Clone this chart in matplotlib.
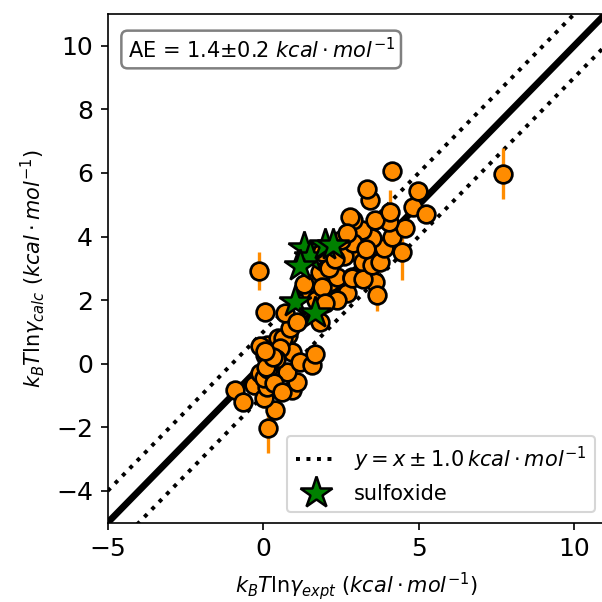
import matplotlib
matplotlib.use("Agg")
import matplotlib.pyplot as plt
import numpy as np

# experimental (x), calculated (y) and uncertainty of calculated values
x_expt = [-0.90, -0.65, -0.31, 0.17, 0.39, 0.01, 0.92, 1.08, 0.12, 0.76,
          -0.10, 0.01, 0.23, 0.26, 0.06, 0.23, 0.12, -0.10, 0.30, 0.49,
          0.81, 0.92, 1.19, 1.57, 1.67, 0.65, 0.87, 0.55, 0.40, 0.15,
          0.35, 0.60, 0.06, 0.71, 1.08, 1.83, -0.13, 1.51, 1.62, 2.15,
          2.37, 2.69, 2.37, 2.85, 2.10, 3.01, 3.22, 1.83, 2.12, 2.87,
          3.58, 3.66, 3.22, 3.50, 3.76, 3.89, 4.46, 4.14, 3.50, 3.17,
          4.57, 4.03, 3.58, 2.89, 2.80, 4.08, 4.83, 5.23, 4.99, 3.44,
          3.33, 4.14, 7.70, 2.60, 2.90, 2.50, 3.30, 2.70, 1.90, 2.30,
          1.30, 1.70, 1.90, 2.00, 0.20, 0.10, 0.30, 0.05]
y_calc = [-0.83, -1.19, -0.67, -2.01, -1.46, -1.09, -0.84, -0.57, -0.72, -0.25,
          -0.30, -0.46, 0.01, 0.10, 0.27, 0.32, 0.59, 0.55, 0.45, 0.80,
          0.90, 0.38, 0.06, -0.04, 0.32, 0.80, 1.11, 0.50, 0.15, -0.15,
          -0.60, -0.90, 1.64, 1.58, 1.32, 1.32, 2.92, 2.26, 2.53, 2.58,
          2.74, 2.21, 2.00, 2.74, 3.10, 3.52, 3.21, 2.89, 3.00, 2.71,
          2.58, 2.16, 2.67, 3.10, 3.19, 3.65, 3.52, 3.99, 3.94, 4.20,
          4.28, 4.47, 4.52, 4.52, 4.60, 4.76, 4.94, 4.71, 5.44, 5.15,
          5.49, 6.06, 5.98, 3.40, 3.80, 3.90, 3.60, 4.10, 3.50, 3.30,
          2.50, 2.00, 2.40, 1.90, 0.05, -0.10, 0.20, 0.40]
y_err = [0.2, 0.2, 0.3, 0.8, 0.3, 0.3, 0.2, 0.2, 0.3, 0.2,
         0.3, 0.2, 0.3, 0.2, 0.2, 0.2, 0.2, 0.2, 0.2, 0.2,
         0.2, 0.2, 0.2, 0.2, 0.2, 0.2, 0.2, 0.2, 0.2, 0.2,
         0.2, 0.2, 0.3, 0.2, 0.2, 0.2, 0.6, 0.2, 0.2, 0.2,
         0.2, 0.2, 0.2, 0.2, 0.2, 0.2, 0.2, 0.2, 0.2, 0.2,
         0.3, 0.5, 0.3, 0.3, 0.3, 0.4, 0.9, 0.3, 0.2, 0.3,
         0.2, 0.2, 0.2, 0.2, 0.2, 0.7, 0.2, 0.2, 0.2, 0.2,
         0.2, 0.3, 0.8, 0.2, 0.2, 0.2, 0.2, 0.2, 0.2, 0.2,
         0.2, 0.2, 0.2, 0.2, 0.2, 0.2, 0.2, 0.2]

# sulfoxide subset
x_sulf = [1.32, 1.50, 2.00, 2.25, 1.19, 1.03, 1.68]
y_sulf = [3.65, 3.35, 3.75, 3.74, 3.08, 1.95, 1.60]

ae_text = "AE = 1.4±0.2 $kcal \\cdot mol^{-1}$"
band = 1.0
xlim = (-5, 11)
ylim = (-5, 11)
xticks = [-5, 0, 5, 10]
yticks = [-4, -2, 0, 2, 4, 6, 8, 10]

fig = plt.figure(figsize=(602/150, 602/150), dpi=150)
ax = fig.add_axes([107.7/602, 1 - 522.7/602, 16*31.1/602, 508.7/602])

xx = np.array(xlim)
ax.plot(xx, xx, color="black", lw=3.2, zorder=1)
ax.plot(xx, xx + band, color="black", ls=":", lw=1.9, zorder=1,
        label="$y = x \\pm 1.0 \\, kcal \\cdot mol^{-1}$")
ax.plot(xx, xx - band, color="black", ls=":", lw=1.9, zorder=1)

ax.errorbar(x_expt, y_calc, yerr=y_err, fmt="none", ecolor="darkorange",
            elinewidth=1.6, capsize=0, zorder=2)
ax.plot(x_expt, y_calc, "o", color="darkorange", mec="black", mew=1.3,
        ms=8.5, ls="none", zorder=3)
ax.plot(x_sulf, y_sulf, "*", color="green", mec="black", mew=1.2,
        ms=16, ls="none", zorder=4, label="sulfoxide")

ax.set_xlim(*xlim)
ax.set_ylim(*ylim)
ax.set_xticks(xticks)
ax.set_yticks(yticks)
ax.tick_params(labelsize=12)
ax.set_xlabel("$k_BT\\mathrm{ln}\\gamma_{expt}$ $(kcal \\cdot mol^{-1})$", fontsize=10)
ax.set_ylabel("$k_BT\\mathrm{ln}\\gamma_{calc}$ $(kcal \\cdot mol^{-1})$", fontsize=10)

ax.text(0.04, 0.955, ae_text, transform=ax.transAxes, fontsize=10,
        va="top", ha="left",
        bbox=dict(boxstyle="round", facecolor="white", edgecolor="gray", lw=1.2))
ax.legend(loc="lower right", fontsize=10)

fig.savefig("out.png", dpi=150)
